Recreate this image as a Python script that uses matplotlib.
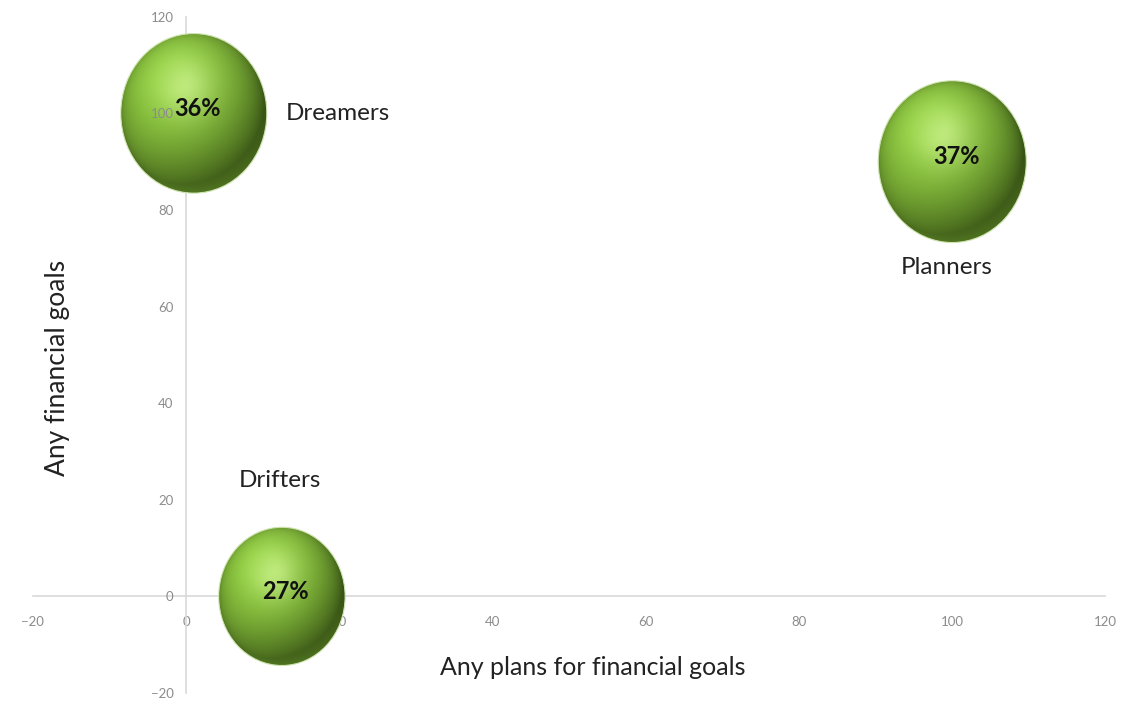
import numpy as np
import matplotlib
matplotlib.use("Agg")
from matplotlib import pyplot as plt
from matplotlib.patches import Ellipse

plt.rcParams['font.family'] = ['Lato', 'DejaVu Sans']

# bubble data
groups = ["Dreamers", "Planners", "Drifters"]
plans_x = [1, 100, 12.5]
goals_y = [100, 90, 0]
shares = [36, 37, 27]
ticks = [-20, 0, 20, 40, 60, 80, 100, 120]

fig = plt.figure(figsize=(11.35, 7.03), dpi=100)
ax = fig.add_axes([0.029, 0.0142, 0.945, 0.962])
ax.set_xlim(-20, 120)
ax.set_ylim(-20, 120)

# axes cross at zero, light gray lines, no tick marks
for s in ["top", "right"]:
    ax.spines[s].set_visible(False)
ax.spines["left"].set_position(("data", 0))
ax.spines["bottom"].set_position(("data", 0))
for s in ["left", "bottom"]:
    ax.spines[s].set_color("#d9d9d9")
    ax.spines[s].set_linewidth(1.2)
ax.set_xticks(ticks)
ax.set_yticks(ticks)
ax.tick_params(axis="x", length=0, pad=14, labelsize=9.5, labelcolor="#8c8c8c")
ax.tick_params(axis="y", length=0, pad=9, labelsize=9.5, labelcolor="#8c8c8c")
# y tick labels sit on top of the bubbles (the "100" shows inside Dreamers)
ax.yaxis.set_zorder(6)

# pixels per data unit, to turn bubble size into an ellipse in data units
p0 = ax.transData.transform((0, 0))
p1 = ax.transData.transform((1, 1))
ppx, ppy = p1[0] - p0[0], p1[1] - p0[1]
kx, ky = 12.17, 13.3   # px radius per sqrt(share)

light = np.array([-0.3, 0.45, 0.84])
light = light / np.linalg.norm(light)
base = np.array([138, 196, 62]) / 255.0
dark = np.array([22, 36, 4]) / 255.0
hi = np.array([215, 240, 165]) / 255.0

for name, x, y, v in zip(groups, plans_x, goals_y, shares):
    rx = kx * np.sqrt(v) / ppx
    ry = ky * np.sqrt(v) / ppy
    n = 300
    u = np.linspace(-1, 1, n)
    U, V = np.meshgrid(u, u[::-1])
    r2 = U**2 + V**2
    Z = np.sqrt(np.clip(1 - r2, 0, 1))
    d = np.clip(U * light[0] + V * light[1] + Z * light[2], 0, 1)
    # reflected light at lower rim
    rim = np.clip(-V, 0, 1) * np.clip(np.sqrt(r2), 0, 1) ** 4 * 0.35
    shade = 0.3 + 0.8 * d
    img = dark[None, None, :] + (base - dark)[None, None, :] * np.clip(shade, 0, 1.08)[..., None]
    img = img + rim[..., None] * (base - dark)[None, None, :] * 0.6
    spec = np.exp(-(((U + 0.12) ** 2 + (V - 0.33) ** 2) / 0.14))
    img = img + spec[..., None] * (hi - base)[None, None, :] * 0.55
    img = np.clip(img, 0, 1)
    im = ax.imshow(img, extent=[x - rx, x + rx, y - ry, y + ry], origin="upper",
                   aspect="auto", zorder=3, interpolation="bilinear")
    clip = Ellipse((x, y), 2 * rx, 2 * ry, transform=ax.transData,
                   facecolor="none", edgecolor="#cfe4b0", lw=0.8, zorder=4)
    ax.add_patch(clip)
    im.set_clip_path(clip)
    ax.text(x + 0.5, y + 1, f"{v}%", ha="center", va="center", fontsize=17,
            fontweight="bold", color="#111111", zorder=7)

# group labels
ax.text(19.8, 100, "Dreamers", ha="center", va="center", fontsize=17.5, color="#222222")
ax.text(99.3, 68, "Planners", ha="center", va="center", fontsize=17.5, color="#222222")
ax.text(12.3, 24, "Drifters", ha="center", va="center", fontsize=17.5, color="#222222")

ax.set_xlim(-20, 120)
ax.set_ylim(-20, 120)

fig.text(0.522, 0.051, "Any plans for financial goals", ha="center", va="center",
         fontsize=18, color="#222222")
fig.text(0.051, 0.476, "Any financial goals", ha="center", va="center",
         rotation=90, fontsize=19, color="#222222")

fig.savefig("out.png", dpi=100)
